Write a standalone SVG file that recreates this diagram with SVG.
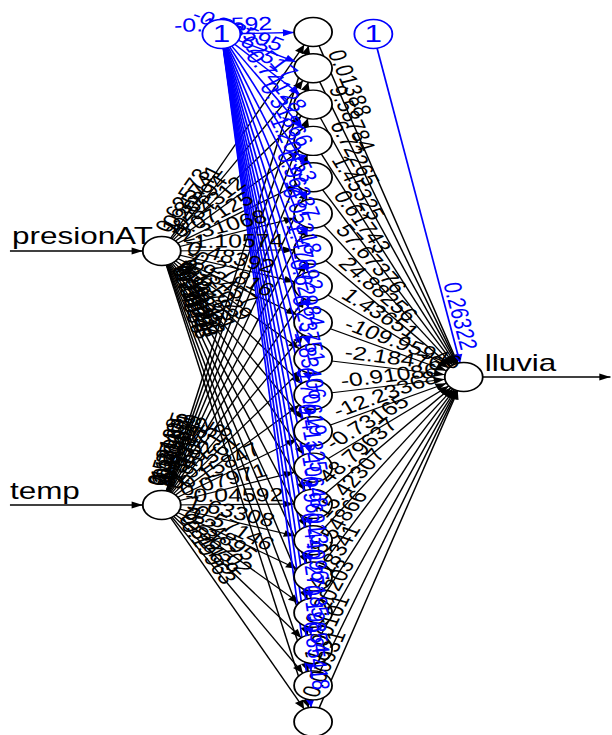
<svg xmlns="http://www.w3.org/2000/svg" width="612" height="735" viewBox="0 0 612 735">
<style>
.ln{stroke:#000;stroke-width:1.15;fill:none;marker-end:url(#ah)}
.bl{stroke:#0000ff;stroke-width:1.3;fill:none;marker-end:url(#ahb)}
.io{stroke:#000;stroke-width:1.3;fill:none}
.nd{fill:#fff;stroke:#000;stroke-width:1.4}
.bn{fill:#fff;stroke:#0000ff;stroke-width:1.4}
text{font-family:"Liberation Sans",Arial,sans-serif}
.w{font-size:19px;fill:#000}
.wb{font-size:19px;fill:#0000ff;text-anchor:end}
.lab{font-size:24px;fill:#000}
.one{font-size:24px;fill:#0000ff;text-anchor:middle}
</style>
<defs>
<marker id="ah" markerUnits="userSpaceOnUse" markerWidth="10" markerHeight="8" refX="23" refY="3.5" orient="auto" overflow="visible"><path d="M0,0 L8.5,3.5 L0,7 z" fill="#000"/></marker>
<marker id="ahb" markerUnits="userSpaceOnUse" markerWidth="10" markerHeight="8" refX="23" refY="3.5" orient="auto" overflow="visible"><path d="M0,0 L8.5,3.5 L0,7 z" fill="#0000ff"/></marker>
<marker id="ahe" markerUnits="userSpaceOnUse" markerWidth="10" markerHeight="8" refX="8.5" refY="3.5" orient="auto" overflow="visible"><path d="M0,0 L8.5,3.5 L0,7 z" fill="#000"/></marker>
</defs>
<g transform="scale(1.31,1)">
<g id="connectors">
<line class="io" x1="7.6" y1="251" x2="123.5" y2="251" marker-end="url(#ah)"/>
<line class="io" x1="7.6" y1="505" x2="123.5" y2="505" marker-end="url(#ah)"/>
<line class="io" x1="354" y1="377" x2="466" y2="377" marker-end="url(#ahe)"/>
<g>
<line class="ln" x1="123.5" y1="251" x2="239" y2="32"/>
<line class="ln" x1="123.5" y1="251" x2="239" y2="68.3"/>
<line class="ln" x1="123.5" y1="251" x2="239" y2="104.6"/>
<line class="ln" x1="123.5" y1="251" x2="239" y2="140.9"/>
<line class="ln" x1="123.5" y1="251" x2="239" y2="177.2"/>
<line class="ln" x1="123.5" y1="251" x2="239" y2="213.5"/>
<line class="ln" x1="123.5" y1="251" x2="239" y2="249.8"/>
<line class="ln" x1="123.5" y1="251" x2="239" y2="286.1"/>
<line class="ln" x1="123.5" y1="251" x2="239" y2="322.4"/>
<line class="ln" x1="123.5" y1="251" x2="239" y2="358.7"/>
<line class="ln" x1="123.5" y1="251" x2="239" y2="395"/>
<line class="ln" x1="123.5" y1="251" x2="239" y2="431.3"/>
<line class="ln" x1="123.5" y1="251" x2="239" y2="467.6"/>
<line class="ln" x1="123.5" y1="251" x2="239" y2="503.9"/>
<line class="ln" x1="123.5" y1="251" x2="239" y2="540.2"/>
<line class="ln" x1="123.5" y1="251" x2="239" y2="576.5"/>
<line class="ln" x1="123.5" y1="251" x2="239" y2="612.8"/>
<line class="ln" x1="123.5" y1="251" x2="239" y2="649.1"/>
<line class="ln" x1="123.5" y1="251" x2="239" y2="685.4"/>
<line class="ln" x1="123.5" y1="251" x2="239" y2="721.7"/>
</g>
<g>
<line class="ln" x1="123.5" y1="505" x2="239" y2="32"/>
<line class="ln" x1="123.5" y1="505" x2="239" y2="68.3"/>
<line class="ln" x1="123.5" y1="505" x2="239" y2="104.6"/>
<line class="ln" x1="123.5" y1="505" x2="239" y2="140.9"/>
<line class="ln" x1="123.5" y1="505" x2="239" y2="177.2"/>
<line class="ln" x1="123.5" y1="505" x2="239" y2="213.5"/>
<line class="ln" x1="123.5" y1="505" x2="239" y2="249.8"/>
<line class="ln" x1="123.5" y1="505" x2="239" y2="286.1"/>
<line class="ln" x1="123.5" y1="505" x2="239" y2="322.4"/>
<line class="ln" x1="123.5" y1="505" x2="239" y2="358.7"/>
<line class="ln" x1="123.5" y1="505" x2="239" y2="395"/>
<line class="ln" x1="123.5" y1="505" x2="239" y2="431.3"/>
<line class="ln" x1="123.5" y1="505" x2="239" y2="467.6"/>
<line class="ln" x1="123.5" y1="505" x2="239" y2="503.9"/>
<line class="ln" x1="123.5" y1="505" x2="239" y2="540.2"/>
<line class="ln" x1="123.5" y1="505" x2="239" y2="576.5"/>
<line class="ln" x1="123.5" y1="505" x2="239" y2="612.8"/>
<line class="ln" x1="123.5" y1="505" x2="239" y2="649.1"/>
<line class="ln" x1="123.5" y1="505" x2="239" y2="685.4"/>
<line class="ln" x1="123.5" y1="505" x2="239" y2="721.7"/>
</g>
<g>
<line class="ln" x1="239" y1="32" x2="354" y2="377"/>
<line class="ln" x1="239" y1="68.3" x2="354" y2="377"/>
<line class="ln" x1="239" y1="104.6" x2="354" y2="377"/>
<line class="ln" x1="239" y1="140.9" x2="354" y2="377"/>
<line class="ln" x1="239" y1="177.2" x2="354" y2="377"/>
<line class="ln" x1="239" y1="213.5" x2="354" y2="377"/>
<line class="ln" x1="239" y1="249.8" x2="354" y2="377"/>
<line class="ln" x1="239" y1="286.1" x2="354" y2="377"/>
<line class="ln" x1="239" y1="322.4" x2="354" y2="377"/>
<line class="ln" x1="239" y1="358.7" x2="354" y2="377"/>
<line class="ln" x1="239" y1="395" x2="354" y2="377"/>
<line class="ln" x1="239" y1="431.3" x2="354" y2="377"/>
<line class="ln" x1="239" y1="467.6" x2="354" y2="377"/>
<line class="ln" x1="239" y1="503.9" x2="354" y2="377"/>
<line class="ln" x1="239" y1="540.2" x2="354" y2="377"/>
<line class="ln" x1="239" y1="576.5" x2="354" y2="377"/>
<line class="ln" x1="239" y1="612.8" x2="354" y2="377"/>
<line class="ln" x1="239" y1="649.1" x2="354" y2="377"/>
<line class="ln" x1="239" y1="685.4" x2="354" y2="377"/>
<line class="ln" x1="239" y1="721.7" x2="354" y2="377"/>
</g>
<g>
<line class="bl" x1="169" y1="34" x2="239" y2="32"/>
<line class="bl" x1="169" y1="34" x2="239" y2="68.3"/>
<line class="bl" x1="169" y1="34" x2="239" y2="104.6"/>
<line class="bl" x1="169" y1="34" x2="239" y2="140.9"/>
<line class="bl" x1="169" y1="34" x2="239" y2="177.2"/>
<line class="bl" x1="169" y1="34" x2="239" y2="213.5"/>
<line class="bl" x1="169" y1="34" x2="239" y2="249.8"/>
<line class="bl" x1="169" y1="34" x2="239" y2="286.1"/>
<line class="bl" x1="169" y1="34" x2="239" y2="322.4"/>
<line class="bl" x1="169" y1="34" x2="239" y2="358.7"/>
<line class="bl" x1="169" y1="34" x2="239" y2="395"/>
<line class="bl" x1="169" y1="34" x2="239" y2="431.3"/>
<line class="bl" x1="169" y1="34" x2="239" y2="467.6"/>
<line class="bl" x1="169" y1="34" x2="239" y2="503.9"/>
<line class="bl" x1="169" y1="34" x2="239" y2="540.2"/>
<line class="bl" x1="169" y1="34" x2="239" y2="576.5"/>
<line class="bl" x1="169" y1="34" x2="239" y2="612.8"/>
<line class="bl" x1="169" y1="34" x2="239" y2="649.1"/>
<line class="bl" x1="169" y1="34" x2="239" y2="685.4"/>
<line class="bl" x1="169" y1="34" x2="239" y2="721.7"/>
<line class="bl" x1="285" y1="34" x2="354" y2="377"/>
</g>
</g>
<g id="in_presionAT"><circle class="nd" cx="123.5" cy="251" r="14.5"/><text class="lab" x="9.2" y="244">presionAT</text></g>
<g id="in_temp"><circle class="nd" cx="123.5" cy="505" r="14.5"/><text class="lab" x="7.6" y="499">temp</text></g>
<g id="h1"><circle class="nd" cx="239" cy="32" r="14.5"/></g>
<g id="h2"><circle class="nd" cx="239" cy="68.3" r="14.5"/></g>
<g id="h3"><circle class="nd" cx="239" cy="104.6" r="14.5"/></g>
<g id="h4"><circle class="nd" cx="239" cy="140.9" r="14.5"/></g>
<g id="h5"><circle class="nd" cx="239" cy="177.2" r="14.5"/></g>
<g id="h6"><circle class="nd" cx="239" cy="213.5" r="14.5"/></g>
<g id="h7"><circle class="nd" cx="239" cy="249.8" r="14.5"/></g>
<g id="h8"><circle class="nd" cx="239" cy="286.1" r="14.5"/></g>
<g id="h9"><circle class="nd" cx="239" cy="322.4" r="14.5"/></g>
<g id="h10"><circle class="nd" cx="239" cy="358.7" r="14.5"/></g>
<g id="h11"><circle class="nd" cx="239" cy="395" r="14.5"/></g>
<g id="h12"><circle class="nd" cx="239" cy="431.3" r="14.5"/></g>
<g id="h13"><circle class="nd" cx="239" cy="467.6" r="14.5"/></g>
<g id="h14"><circle class="nd" cx="239" cy="503.9" r="14.5"/></g>
<g id="h15"><circle class="nd" cx="239" cy="540.2" r="14.5"/></g>
<g id="h16"><circle class="nd" cx="239" cy="576.5" r="14.5"/></g>
<g id="h17"><circle class="nd" cx="239" cy="612.8" r="14.5"/></g>
<g id="h18"><circle class="nd" cx="239" cy="649.1" r="14.5"/></g>
<g id="h19"><circle class="nd" cx="239" cy="685.4" r="14.5"/></g>
<g id="h20"><circle class="nd" cx="239" cy="721.7" r="14.5"/></g>
<g id="out_lluvia"><circle class="nd" cx="354" cy="377" r="14.5"/><text class="lab" x="370" y="371">lluvia</text></g>
<g id="weight-labels">
<g id="weights-presionAT">
<text class="w" transform="translate(123.5,251) rotate(-62.19)" x="18" y="-3">0.62573</text>
<text class="w" transform="translate(123.5,251) rotate(-57.70)" x="18" y="-3">-0.35741</text>
<text class="w" transform="translate(123.5,251) rotate(-51.73)" x="18" y="-3">1.20894</text>
<text class="w" transform="translate(123.5,251) rotate(-43.63)" x="18" y="-3">-0.84312</text>
<text class="w" transform="translate(123.5,251) rotate(-32.58)" x="18" y="-3">0.07125</text>
<text class="w" transform="translate(123.5,251) rotate(-17.99)" x="18" y="-3">2.31068</text>
<text class="w" transform="translate(123.5,251) rotate(-0.60)" x="18" y="-3">-1.10574</text>
<text class="w" transform="translate(123.5,251) rotate(16.90)" x="18" y="-3">0.48392</text>
<text class="w" transform="translate(123.5,251) rotate(31.73)" x="18" y="-3">-0.27816</text>
<text class="w" transform="translate(123.5,251) rotate(43.00)" x="18" y="-3">1.93457</text>
<text class="w" transform="translate(123.5,251) rotate(51.27)" x="18" y="-3">-0.61029</text>
<text class="w" transform="translate(123.5,251) rotate(57.36)" x="18" y="-3">0.15783</text>
<text class="w" transform="translate(123.5,251) rotate(61.93)" x="18" y="-3">-2.04361</text>
<text class="w" transform="translate(123.5,251) rotate(65.45)" x="18" y="-3">0.89245</text>
<text class="w" transform="translate(123.5,251) rotate(68.23)" x="18" y="-3">-0.43908</text>
<text class="w" transform="translate(123.5,251) rotate(70.46)" x="18" y="-3">1.37621</text>
<text class="w" transform="translate(123.5,251) rotate(72.29)" x="18" y="-3">-0.96054</text>
<text class="w" transform="translate(123.5,251) rotate(73.82)" x="18" y="-3">0.21679</text>
<text class="w" transform="translate(123.5,251) rotate(75.11)" x="18" y="-3">-1.58243</text>
<text class="w" transform="translate(123.5,251) rotate(76.21)" x="18" y="-3">0.74036</text>
</g>
<g id="weights-temp">
<text class="w" transform="translate(123.5,505) rotate(-76.28)" x="18" y="-3">0.53128</text>
<text class="w" transform="translate(123.5,505) rotate(-75.19)" x="18" y="-3">-1.27405</text>
<text class="w" transform="translate(123.5,505) rotate(-73.91)" x="18" y="-3">0.18963</text>
<text class="w" transform="translate(123.5,505) rotate(-72.40)" x="18" y="-3">-0.70251</text>
<text class="w" transform="translate(123.5,505) rotate(-70.59)" x="18" y="-3">1.04587</text>
<text class="w" transform="translate(123.5,505) rotate(-68.38)" x="18" y="-3">-0.32619</text>
<text class="w" transform="translate(123.5,505) rotate(-65.65)" x="18" y="-3">2.11794</text>
<text class="w" transform="translate(123.5,505) rotate(-62.18)" x="18" y="-3">-0.88432</text>
<text class="w" transform="translate(123.5,505) rotate(-57.68)" x="18" y="-3">0.36075</text>
<text class="w" transform="translate(123.5,505) rotate(-51.71)" x="18" y="-3">-1.49218</text>
<text class="w" transform="translate(123.5,505) rotate(-43.60)" x="18" y="-3">0.92561</text>
<text class="w" transform="translate(123.5,505) rotate(-32.54)" x="18" y="-3">-0.15847</text>
<text class="w" transform="translate(123.5,505) rotate(-17.94)" x="18" y="-3">0.07971</text>
<text class="w" transform="translate(123.5,505) rotate(-0.55)" x="18" y="-3">-0.04592</text>
<text class="w" transform="translate(123.5,505) rotate(16.95)" x="18" y="-3">1.63308</text>
<text class="w" transform="translate(123.5,505) rotate(31.76)" x="18" y="-3">-0.57146</text>
<text class="w" transform="translate(123.5,505) rotate(43.03)" x="18" y="-3">0.24895</text>
<text class="w" transform="translate(123.5,505) rotate(51.29)" x="18" y="-3">-2.36702</text>
<text class="w" transform="translate(123.5,505) rotate(57.37)" x="18" y="-3">0.81439</text>
<text class="w" transform="translate(123.5,505) rotate(61.94)" x="18" y="-3">-0.19963</text>
</g>
<g id="weights-hidden-out">
<text class="w" transform="translate(239,32) rotate(71.57)" x="23" y="-4">0.01388</text>
<text class="w" transform="translate(239,68.3) rotate(69.57)" x="23" y="-4">9.58784</text>
<text class="w" transform="translate(239,104.6) rotate(67.15)" x="23" y="-4">6.72265</text>
<text class="w" transform="translate(239,140.9) rotate(64.03)" x="23" y="-4">1.45325</text>
<text class="w" transform="translate(239,177.2) rotate(60.07)" x="23" y="-4">0.61743</text>
<text class="w" transform="translate(239,213.5) rotate(54.93)" x="23" y="-4">57.67376</text>
<text class="w" transform="translate(239,249.8) rotate(47.88)" x="23" y="-4">24.88256</text>
<text class="w" transform="translate(239,286.1) rotate(38.33)" x="23" y="-4">1.43651</text>
<text class="w" transform="translate(239,322.4) rotate(25.40)" x="23" y="-4">-109.95946</text>
<text class="w" transform="translate(239,358.7) rotate(9.04)" x="23" y="-4">-2.18476</text>
<text class="w" transform="translate(239,395) rotate(-8.90)" x="23" y="-4">-0.91086</text>
<text class="w" transform="translate(239,431.3) rotate(-25.27)" x="23" y="-4">-12.23368</text>
<text class="w" transform="translate(239,467.6) rotate(-38.23)" x="23" y="-4">-0.73165</text>
<text class="w" transform="translate(239,503.9) rotate(-47.81)" x="23" y="-4">48.79637</text>
<text class="w" transform="translate(239,540.2) rotate(-54.83)" x="23" y="-4">15.42307</text>
<text class="w" transform="translate(239,576.5) rotate(-60.04)" x="23" y="-4">8.54866</text>
<text class="w" transform="translate(239,612.8) rotate(-64.01)" x="23" y="-4">4.18341</text>
<text class="w" transform="translate(239,649.1) rotate(-67.09)" x="23" y="-4">0.20203</text>
<text class="w" transform="translate(239,685.4) rotate(-69.55)" x="23" y="-4">1.00101</text>
<text class="w" transform="translate(239,721.7) rotate(-71.55)" x="23" y="-4">0.00931</text>
</g>
<g id="weights-bias">
<text class="wb" transform="translate(239,32) rotate(-1.64)" x="-31" y="-3">-0.10592</text>
<text class="wb" transform="translate(239,68.3) rotate(26.10)" x="-31" y="-3">-0.38595</text>
<text class="wb" transform="translate(239,104.6) rotate(45.25)" x="-31" y="-3">1.62517</text>
<text class="wb" transform="translate(239,140.9) rotate(56.78)" x="-31" y="-3">-0.74128</text>
<text class="wb" transform="translate(239,177.2) rotate(63.95)" x="-31" y="-3">0.31866</text>
<text class="wb" transform="translate(239,213.5) rotate(68.70)" x="-31" y="-3">-1.20453</text>
<text class="wb" transform="translate(239,249.8) rotate(72.03)" x="-31" y="-3">0.96237</text>
<text class="wb" transform="translate(239,286.1) rotate(74.48)" x="-31" y="-3">-0.05318</text>
<text class="wb" transform="translate(239,322.4) rotate(76.36)" x="-31" y="-3">1.47092</text>
<text class="wb" transform="translate(239,358.7) rotate(77.83)" x="-31" y="-3">-0.62984</text>
<text class="wb" transform="translate(239,395) rotate(79.03)" x="-31" y="-3">0.23751</text>
<text class="wb" transform="translate(239,431.3) rotate(80.01)" x="-31" y="-3">-1.83406</text>
<text class="wb" transform="translate(239,467.6) rotate(80.83)" x="-31" y="-3">0.70619</text>
<text class="wb" transform="translate(239,503.9) rotate(81.53)" x="-31" y="-3">-0.41325</text>
<text class="wb" transform="translate(239,540.2) rotate(82.13)" x="-31" y="-3">1.10648</text>
<text class="wb" transform="translate(239,576.5) rotate(82.65)" x="-31" y="-3">-0.96013</text>
<text class="wb" transform="translate(239,612.8) rotate(83.10)" x="-31" y="-3">0.44096</text>
<text class="wb" transform="translate(239,649.1) rotate(83.51)" x="-31" y="-3">-0.27185</text>
<text class="wb" transform="translate(239,685.4) rotate(83.87)" x="-31" y="-3">0.19854</text>
<text class="wb" transform="translate(239,721.7) rotate(84.19)" x="-31" y="-3">-0.85418</text>
<text class="wb" transform="translate(354,377) rotate(78.63)" x="-26" y="-3">0.26322</text>
</g>
</g>
<g id="bias1"><circle class="bn" cx="169" cy="34" r="14.5"/><text class="one" x="169" y="42.5">1</text></g>
<g id="bias2"><circle class="bn" cx="285" cy="34" r="14.5"/><text class="one" x="285" y="42.5">1</text></g>
</g>
</svg>
